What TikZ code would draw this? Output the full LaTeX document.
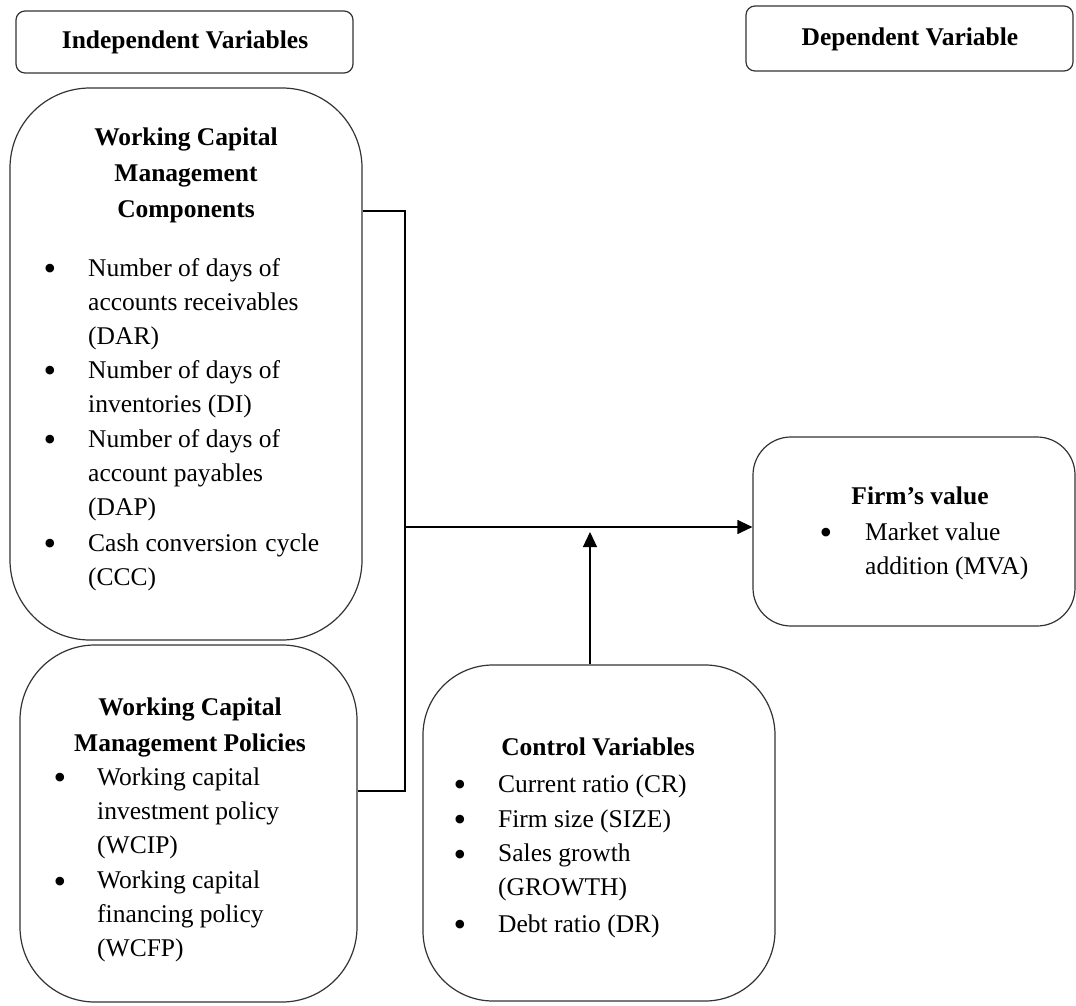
\documentclass[tikz,border=0pt]{standalone}
\usepackage{fontspec}
\setmainfont{Liberation Serif}
\usetikzlibrary{arrows.meta}
\begin{document}
\begin{tikzpicture}[x=1pt,y=-1pt,
  box/.style={draw=black!80, line width=1.2pt, inner sep=0pt},
  txt/.style={anchor=base west, inner sep=0pt, align=left, font=\fontsize{25.5}{34}\selectfont},
  ttl/.style={anchor=base, inner sep=0pt, align=center, font=\fontsize{25.5}{36}\selectfont\bfseries},
  bul/.style={anchor=base, inner sep=0pt, font=\fontsize{36}{36}\selectfont},
  conn/.style={line width=1.2pt, black},
  arr/.style={conn, -{Triangle[length=15pt,width=14pt]}}]
\useasboundingbox (0,0) rectangle (1076,1006);
% boxes
\node[box, rounded corners=9pt, minimum width=337pt, minimum height=62pt] (ind) at (184.5,42) {};
\node[box, rounded corners=9pt, minimum width=327pt, minimum height=65pt] (dep) at (909.5,38.5) {};
\node[box, rounded corners=80pt, minimum width=352pt, minimum height=552pt] (wcm) at (186,364) {};
\node[box, rounded corners=75pt, minimum width=337pt, minimum height=357pt] (pol) at (188.5,823.5) {};
\node[box, rounded corners=70pt, minimum width=352pt, minimum height=336pt] (ctrl) at (599,833) {};
\node[box, rounded corners=38pt, minimum width=322pt, minimum height=189pt] (firm) at (914,531.5) {};
% headings
\node[ttl] (indt) at (185,49) {Independent Variables};
\node[ttl] (dept) at (910,46) {Dependent Variable};
% WCM components
\node[ttl] (wcmt) at (186,217) {Working Capital\\Management\\Components};
\node[bul] (b1) at (50,280) {\textbullet};
\node[txt] (t1) at (88,344) {Number of days of\\accounts receivables\\(DAR)};
\node[bul] (b2) at (50,382) {\textbullet};
\node[txt] (t2) at (88,412) {Number of days of\\inventories (DI)};
\node[bul] (b3) at (50,451) {\textbullet};
\node[txt] (t3) at (88,515) {Number of days of\\account payables\\(DAP)};
\node[bul] (b4) at (50,555) {\textbullet};
\node[txt] (t4) at (88,585) {Cash conversion\hspace{8pt}cycle\\(CCC)};
% policies
\node[ttl] (polt) at (190,751) {Working Capital\\Management Policies};
\node[bul] (b5) at (60,789) {\textbullet};
\node[txt] (t5) at (97,853) {Working capital\\investment policy\\(WCIP)};
\node[bul] (b6) at (60,893) {\textbullet};
\node[txt] (t6) at (97,956) {Working capital\\financing policy\\(WCFP)};
% control
\node[ttl] (ctrlt) at (598,755) {Control Variables};
\node[bul] (b7) at (460,796) {\textbullet};
\node[txt] (t7) at (498,792) {Current ratio (CR)};
\node[bul] (b8) at (460,831) {\textbullet};
\node[txt] (t8) at (498,827) {Firm size (SIZE)};
\node[bul] (b9) at (460,866) {\textbullet};
\node[txt] (t9) at (498,895) {Sales growth\\(GROWTH)};
\node[bul] (b10) at (460,936) {\textbullet};
\node[txt] (t10) at (498,932) {Debt ratio (DR)};
% firm value
\node[ttl] (firmt) at (920,504) {Firm’s value};
\node[bul] (b11) at (826,544) {\textbullet};
\node[txt] (t11) at (865,574) {Market value\\addition (MVA)};
% connectors
\coordinate (jt) at (405,211);
\coordinate (jb) at (405,791);
\coordinate (jm) at (405,527);
\coordinate (ca) at (590,532);
\draw[conn] (wcm.east |- jt) -- (jt) -- (jb) -- (pol.east |- jb);
\draw[arr] (jm) -- (firm.west |- jm);
\draw[arr] (ctrl.north -| ca) -- (ca);
\end{tikzpicture}
\end{document}
